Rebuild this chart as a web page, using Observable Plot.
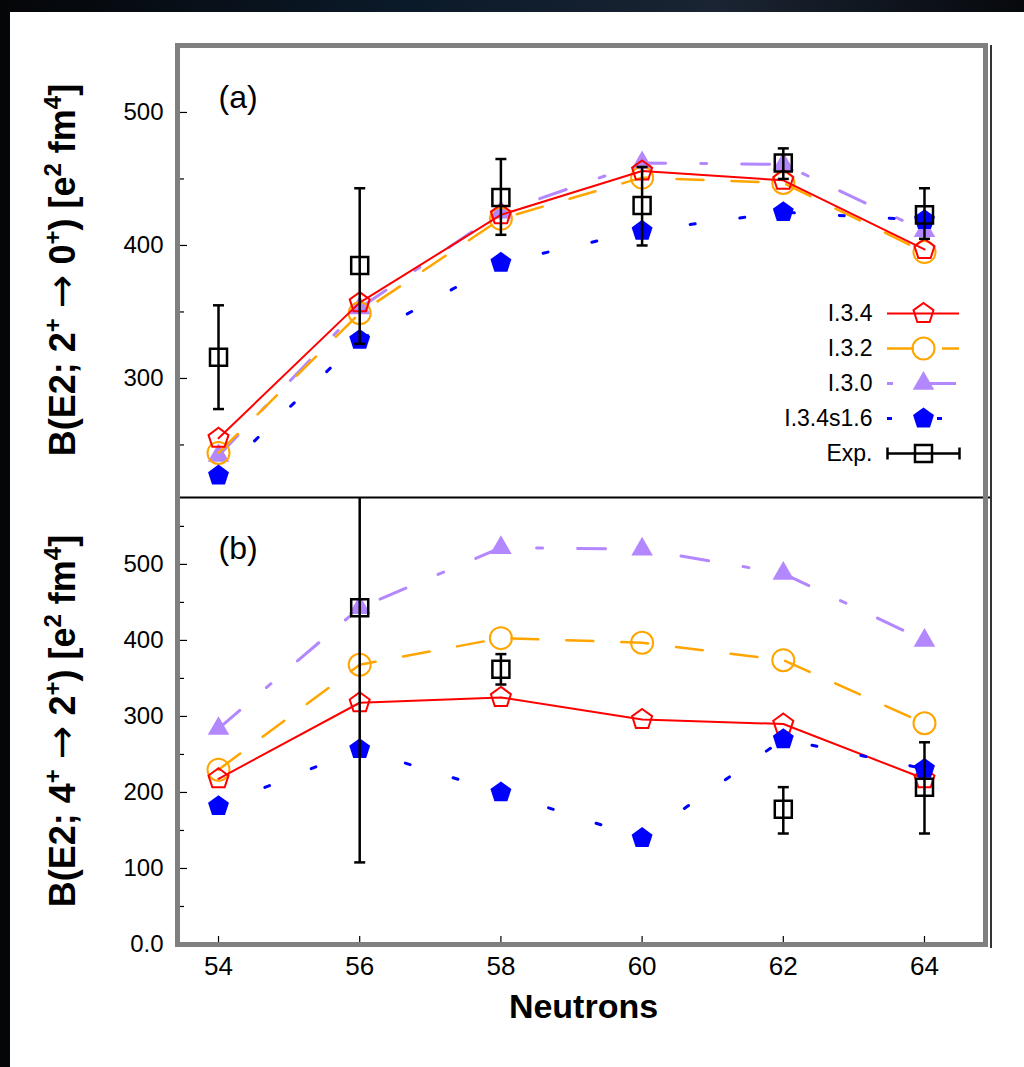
<!DOCTYPE html>
<html><head><meta charset="utf-8">
<script src="https://cdn.jsdelivr.net/npm/d3@7"></script>
<script src="https://cdn.jsdelivr.net/npm/@observablehq/plot@0.6"></script>
<style>
html,body{margin:0;padding:0;}
body{width:1024px;height:1067px;background:linear-gradient(90deg,#050608 0%,#0b1a2a 40%,#1a2432 70%,#07090d 100%);position:relative;overflow:hidden;font-family:"Liberation Sans",Arial,sans-serif;}
#sheet{position:absolute;left:10px;top:12px;width:1014px;height:1055px;background:#fff;}
.abs{position:absolute;left:0;}
#frame{position:absolute;left:175px;top:43px;width:803px;height:894px;border:5px solid #7f7f7f;pointer-events:none;}
#edge{position:absolute;left:990px;top:45px;width:2px;height:903px;background:#333;}
</style></head><body>
<div id="sheet"></div>
<div id="chartA" class="abs" style="top:0"></div>
<div id="chartB" class="abs" style="top:497px"></div>
<div id="legend" class="abs" style="top:294px;left:700px"></div>
<div id="frame"></div><div id="edge"></div>
<script>
// ---------- data ----------
const neutrons = [54, 56, 58, 60, 62, 64];
const seriesNames = ["I.3.4", "I.3.2", "I.3.0", "I.3.4s1.6"];
const expName = "Exp.";

// panel (a): B(E2; 2+ -> 0+)
const a_I34    = [255, 357, 423, 456, 449, 397];
const a_I32    = [244, 349, 420, 451, 447, 395];
const a_I30    = [242, 353, 425, 462, 461, 411];
const a_I34s16 = [227, 329, 387, 411, 425, 419];
const a_expN   = [54, 56, 58, 60, 62, 64];
const a_exp    = [316, 385, 436, 430, 462, 423];
const a_expLo  = [277, 326, 408, 400, 450, 405];
const a_expHi  = [355, 443, 465, 459, 473, 443];

// panel (b): B(E2; 4+ -> 2+)
const b_I34    = [218, 318, 325, 296, 290, 218];
const b_I32    = [230, 368, 403, 397, 374, 291];
const b_I30    = [284, 443, 522, 520, 488, 400];
const b_I34s16 = [182, 257, 200, 140, 270, 231];
const b_expN   = [56, 58, 62, 64];
const b_exp    = [443, 362, 178, 207];
const b_expLo  = [108, 342, 146, 146];
const b_expHi  = [778, 382, 207, 266];

// ticks / labels
const xTicks = [54, 56, 58, 60, 62, 64];
const aTicksMajor = [300, 400, 500];
const aTicksMinor = [250, 350, 450];
const bTicksMajor = [0, 100, 200, 300, 400, 500];
const bTicksMinor = [50, 150, 250, 350, 450, 550];
const xDomain = [53.405, 64.935];
const aDomain = [210.5, 552.6];
const bDomain = [0, 588];
// label pieces: [text, kind]  kind: 0 normal, 1 superscript, 2 arrow
const yLabelAParts = [["B(E2; 2", 0], ["+", 1], [" ", 0], ["→", 2], [" 0", 0], ["+", 1], [") [e", 0], ["2", 1], [" fm", 0], ["4", 1], ["]", 0]];
const yLabelBParts = [["B(E2; 4", 0], ["+", 1], [" ", 0], ["→", 2], [" 2", 0], ["+", 1], [") [e", 0], ["2", 1], [" fm", 0], ["4", 1], ["]", 0]];
const yLabelA = yLabelAParts.map(p => p[0]).join("");
const yLabelB = yLabelBParts.map(p => p[0]).join("");
const xLabel = "Neutrons";
const panelA = "(a)";
const panelB = "(b)";

// ---------- symbols ----------
const pentagon = {draw(ctx, size) {
  const R = Math.sqrt(size / Math.PI);
  for (let i = 0; i < 5; i++) {
    const a = -Math.PI / 2 + i * 2 * Math.PI / 5;
    const x = R * Math.cos(a), y = R * Math.sin(a);
    if (i) ctx.lineTo(x, y); else ctx.moveTo(x, y);
  }
  ctx.closePath();
}};
const hcap = {draw(ctx, size) { const w = Math.sqrt(size / Math.PI); ctx.moveTo(-w, 0); ctx.lineTo(w, 0); }};
const vcap = {draw(ctx, size) { const w = Math.sqrt(size / Math.PI); ctx.moveTo(0, -w); ctx.lineTo(0, w); }};

const styles = {
  "I.3.4":     {stroke: "#ff0000", dash: null, width: 2, symbol: pentagon, r: 10.5, fill: "none", legendOffset: 0},
  "I.3.2":     {stroke: "#ffa500", dash: "27,28", width: 2.5, symbol: "circle", r: 11, fill: "none", legendOffset: 0},
  "I.3.0":     {stroke: "#b388ff", dash: "28,35,6,35", width: 3, symbol: "triangle", r: 8, fill: "#b388ff", legendOffset: 63},
  "I.3.4s1.6": {stroke: "#0000ff", dash: "5,45", width: 3, symbol: pentagon, r: 11, fill: "#0000ff", legendOffset: 0}
};
const drawOrder = ["I.3.0", "I.3.2", "I.3.4", "I.3.4s1.6"];
const font = "'Liberation Sans', Arial, sans-serif";
const yLabelSize = 36, supSize = 24, supRaise = 14, arrowSize = 40;

function seriesMarks(vals) {
  return drawOrder.flatMap(name => {
    const s = styles[name];
    const data = neutrons.map((n, i) => ({n, v: vals[name][i]}));
    return [
      Plot.line(data, {x: "n", y: "v", stroke: s.stroke, strokeWidth: s.width, strokeDasharray: s.dash, clip: true}),
      Plot.dot(data, {x: "n", y: "v", symbol: s.symbol, r: s.r,
        stroke: s.fill === "none" ? s.stroke : "none", fill: s.fill, strokeWidth: 2})
    ];
  });
}
function expMarks(xs, v, lo, hi) {
  const data = xs.map((n, i) => ({n, v: v[i], lo: lo[i], hi: hi[i]}));
  return [
    Plot.ruleX(data, {x: "n", y1: "lo", y2: "hi", stroke: "#000", strokeWidth: 2.5, clip: true}),
    Plot.dot(data, {x: "n", y: "lo", symbol: hcap, r: 5.5, stroke: "#000", strokeWidth: 2.5, clip: true}),
    Plot.dot(data, {x: "n", y: "hi", symbol: hcap, r: 5.5, stroke: "#000", strokeWidth: 2.5, clip: true}),
    Plot.dot(data, {x: "n", y: "v", symbol: "square", r: 9.6, stroke: "#000", fill: "none", strokeWidth: 2.5})
  ];
}
function yAxes(major, minor, fmt) {
  return [
    Plot.axisY(major, {tickSize: 0, tickPadding: 13, fontSize: 24, tickFormat: fmt, label: null}),
    Plot.axisY(major, {tickSize: -11, tickFormat: () => "", label: null, strokeWidth: 1.2}),
    Plot.axisY(minor, {tickSize: -8, tickFormat: () => "", label: null, strokeWidth: 1.2})
  ];
}
function yLabelMark(label) {
  return Plot.text([label], {frameAnchor: "left", text: d => d, rotate: -90, dx: -113,
    textAnchor: "middle", lineAnchor: "middle", fontSize: yLabelSize, fontWeight: "bold"});
}
function superscriptify(svg, parts) {
  const plain = parts.map(p => p[0]).join("");
  svg.querySelectorAll("text").forEach(t => {
    if (t.textContent !== plain) return;
    while (t.firstChild) t.removeChild(t.firstChild);
    let raised = false;
    parts.forEach(([s, kind]) => {
      const ts = document.createElementNS("http://www.w3.org/2000/svg", "tspan");
      ts.textContent = s;
      if (kind === 1) { ts.setAttribute("font-size", supSize); ts.setAttribute("dy", raised ? 0 : -supRaise); raised = true; }
      else {
        if (raised) ts.setAttribute("dy", supRaise);
        raised = false;
        if (kind === 2) { ts.setAttribute("font-family", "'DejaVu Sans', sans-serif"); ts.setAttribute("font-weight", "normal"); ts.setAttribute("font-size", arrowSize); }
      }
      t.appendChild(ts);
    });
  });
}
const baseStyle = {fontFamily: font, color: "#000", background: "transparent", overflow: "visible"};

// ---------- panel (a) ----------
const chartA = Plot.plot({
  width: 1024, height: 497, marginLeft: 176, marginRight: 34, marginTop: 42, marginBottom: 0,
  style: baseStyle,
  x: {domain: xDomain, axis: null},
  y: {domain: aDomain, label: null},
  marks: [
    ...yAxes(aTicksMajor, aTicksMinor, d => d),
    Plot.ruleY([aDomain[0]], {stroke: "#000", strokeWidth: 2}),
    yLabelMark(yLabelA),
    Plot.text([panelA], {frameAnchor: "top-left", text: d => d, dx: 42, dy: 55, textAnchor: "start", lineAnchor: "middle", fontSize: 32}),
    ...seriesMarks({"I.3.4": a_I34, "I.3.2": a_I32, "I.3.0": a_I30, "I.3.4s1.6": a_I34s16}),
    ...expMarks(a_expN, a_exp, a_expLo, a_expHi)
  ]
});
superscriptify(chartA, yLabelAParts);
document.getElementById("chartA").append(chartA);

// ---------- panel (b) ----------
const chartB = Plot.plot({
  width: 1024, height: 570, marginLeft: 176, marginRight: 34, marginTop: 0, marginBottom: 123,
  style: baseStyle,
  x: {domain: xDomain, label: null},
  y: {domain: bDomain, label: null},
  marks: [
    ...yAxes(bTicksMajor, bTicksMinor, d => d === 0 ? "0.0" : d),
    Plot.axisX(xTicks, {tickSize: 0, tickPadding: 12, fontSize: 26, label: null}),
    Plot.axisX(xTicks, {tickSize: -8, tickFormat: () => "", label: null, strokeWidth: 1.2}),
    Plot.text([xLabel], {frameAnchor: "bottom", text: d => d, dy: 63, lineAnchor: "middle", fontSize: 34, fontWeight: "bold"}),
    yLabelMark(yLabelB),
    Plot.text([panelB], {frameAnchor: "top-left", text: d => d, dx: 42, dy: 51, textAnchor: "start", lineAnchor: "middle", fontSize: 32}),
    ...seriesMarks({"I.3.4": b_I34, "I.3.2": b_I32, "I.3.0": b_I30, "I.3.4s1.6": b_I34s16}),
    ...expMarks(b_expN, b_exp, b_expLo, b_expHi)
  ]
});
superscriptify(chartB, yLabelBParts);
document.getElementById("chartB").append(chartB);

// ---------- legend ----------
const legendNames = [...seriesNames, expName];
const legend = Plot.plot({
  width: 270, height: 180, marginLeft: 187, marginRight: 11, marginTop: 18, marginBottom: 21,
  style: baseStyle,
  x: {domain: [0, 1], axis: null},
  y: {type: "point", domain: legendNames, padding: 0, axis: null},
  marks: [
    ...seriesNames.flatMap(name => {
      const s = styles[name];
      return [
        Plot.ruleY([name], {y: d => d, stroke: s.stroke, strokeWidth: s.width, strokeDasharray: s.dash, strokeDashoffset: s.legendOffset}),
        Plot.dot([name], {y: d => d, symbol: s.symbol, r: s.r, stroke: s.fill === "none" ? s.stroke : "none", fill: s.fill, strokeWidth: 2})
      ];
    }),
    Plot.ruleY([expName], {y: d => d, stroke: "#000", strokeWidth: 2.5}),
    Plot.dot([expName], {y: d => d, frameAnchor: "left", symbol: vcap, r: 6, stroke: "#000", strokeWidth: 2.5}),
    Plot.dot([expName], {y: d => d, frameAnchor: "right", symbol: vcap, r: 6, stroke: "#000", strokeWidth: 2.5}),
    Plot.dot([expName], {y: d => d, symbol: "square", r: 9.6, stroke: "#000", fill: "none", strokeWidth: 2.5}),
    Plot.text(legendNames, {y: d => d, text: d => d, frameAnchor: "left", dx: -15, textAnchor: "end", fontSize: 23})
  ]
});
document.getElementById("legend").append(legend);
</script>
</body></html>
